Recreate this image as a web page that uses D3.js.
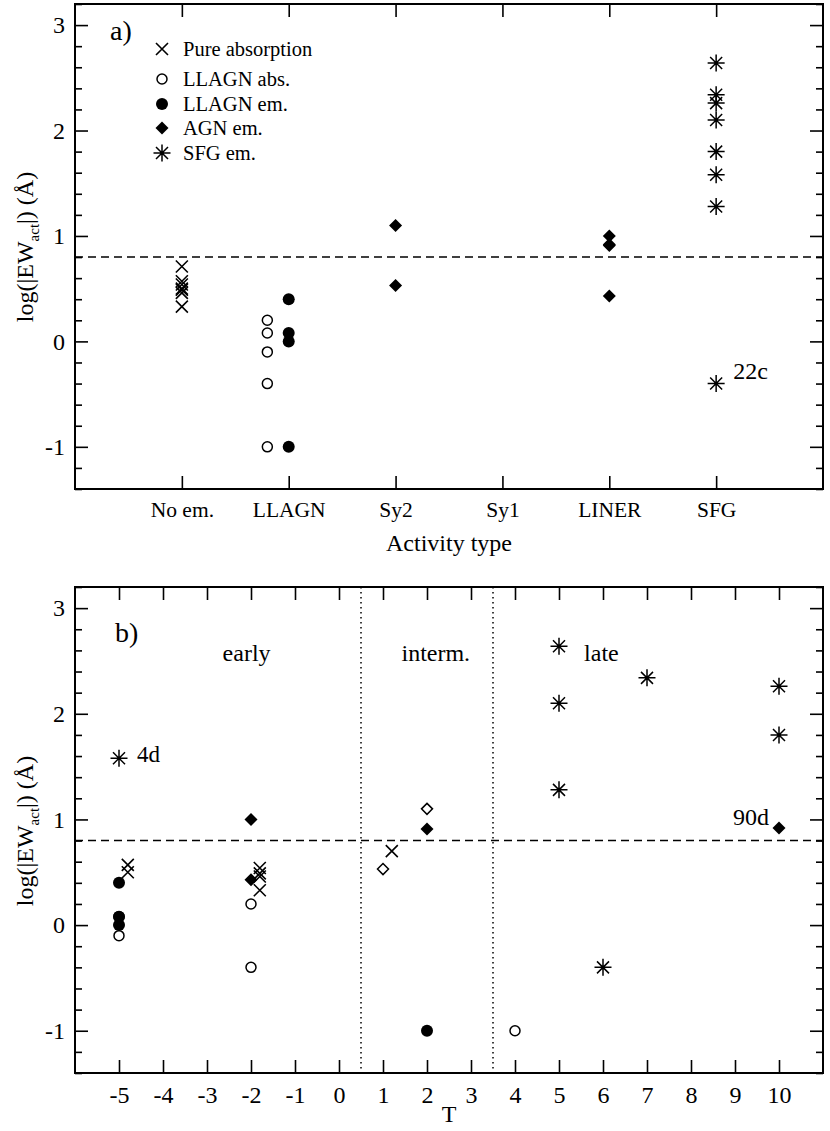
<!DOCTYPE html>
<html>
<head>
<meta charset="utf-8">
<script src="https://cdn.jsdelivr.net/npm/d3@7"></script>
<style>
  body { margin: 0; background: #fff; }
  text { font-family: "Liberation Serif", "Times New Roman", serif; fill: #000; }
</style>
</head>
<body>
<div id="chart"></div>
<script>
// categories / tick labels
const activityTypes = ["No em.", "LLAGN", "Sy2", "Sy1", "LINER", "SFG"];
const hubbleTypes = [-5, -4, -3, -2, -1, 0, 1, 2, 3, 4, 5, 6, 7, 8, 9, 10];
const yMajor = [-1, 0, 1, 2, 3];
const threshold = 0.8;
const morphBounds = [0.5, 3.5];

// panel a: [activity position, log|EW|]
const aPureAbs = [[1, 0.71], [1, 0.57], [1, 0.54], [1, 0.50], [1, 0.49], [1, 0.46], [1, 0.33]];
const aLlagnAbs = [[1.8, 0.20], [1.8, 0.08], [1.8, -0.10], [1.8, -0.40], [1.8, -1.00]];
const aLlagnEm = [[2, 0.40], [2, 0.08], [2, 0.00], [2, -1.00]];
const aAgnEm = [[3, 1.10], [3, 0.53], [5, 1.00], [5, 0.92], [5, 0.91], [5, 0.43]];
const aSfgEm = [[6, 2.64], [6, 2.34], [6, 2.26], [6, 2.10], [6, 1.80], [6, 1.58], [6, 1.28], [6, -0.40]];

// panel b: [T, log|EW|]
const bPureAbs = [[-4.8, 0.57], [-4.8, 0.50], [-1.8, 0.54], [-1.8, 0.49], [-1.8, 0.46], [-1.8, 0.33], [1.2, 0.70]];
const bLlagnAbs = [[-5, 0.08], [-5, -0.10], [-2, 0.20], [-2, -0.40], [4, -1.00]];
const bLlagnEm = [[-5, 0.40], [-5, 0.08], [-5, 0.00], [2, -1.00]];
const bSy2Em = [[1, 0.53], [2, 1.10]];
const bAgnEm = [[-2, 1.00], [-2, 0.43], [2, 0.91], [10, 0.92]];
const bSfgEm = [[-5, 1.58], [5, 2.64], [5, 2.10], [5, 1.28], [7, 2.34], [10, 2.26], [10, 1.80], [6, -0.40]];

const legendItems = [
  { label: "Pure absorption", type: "cross" },
  { label: "LLAGN abs.", type: "openCircle" },
  { label: "LLAGN em.", type: "filledCircle" },
  { label: "AGN em.", type: "diamond" },
  { label: "SFG em.", type: "star" }
];

const W = 830, H = 1131;
const left = 75, right = 823;

const svg = d3.select("#chart").append("svg")
  .attr("width", W)
  .attr("height", H);

// marker shapes
const markers = {
  cross: { d: "M-6,-6L6,6M-6,6L6,-6", fill: "none", stroke: 1.6 },
  openCircle: { d: d3.symbol(d3.symbolCircle, Math.PI * 5 * 5)(), fill: "#fff", stroke: 1.5 },
  filledCircle: { d: d3.symbol(d3.symbolCircle, Math.PI * 6 * 6)(), fill: "#000", stroke: 0 },
  diamond: { d: "M0,-6.5L6.5,0L0,6.5L-6.5,0Z", fill: "#000", stroke: 0 },
  openDiamond: { d: "M0,-5.5L5.5,0L0,5.5L-5.5,0Z", fill: "#fff", stroke: 1.5 },
  star: { d: "M0,-8.5V8.5M-8.5,0H8.5M-6,-6L6,6M-6,6L6,-6", fill: "none", stroke: 1.5 }
};

function drawMarks(g, pts, type, x, y) {
  const m = markers[type];
  g.selectAll(null).data(pts).enter().append("path")
    .attr("transform", d => `translate(${x(d[0])},${y(d[1])})`)
    .attr("d", m.d)
    .attr("fill", m.fill)
    .attr("stroke", "#000")
    .attr("stroke-width", m.stroke);
}

function yLabel(g, cy) {
  const t = g.append("text")
    .attr("transform", `translate(33,${cy}) rotate(-90)`)
    .attr("text-anchor", "middle")
    .attr("font-size", 24);
  t.append("tspan").text("log(|EW");
  t.append("tspan").attr("font-size", 15).attr("dy", 6).text("act");
  t.append("tspan").attr("dy", -6).text("|) (Å)");
}

function drawPanel(top, bottom, xDomain, xTicks, xFormat) {
  const g = svg.append("g");
  const x = d3.scaleLinear().domain(xDomain).range([left, right]);
  const y = d3.scaleLinear().domain([-1.4, 3.2]).range([bottom, top]);
  const yMinor = d3.range(-1.4, 3.21, 0.2).map(v => +v.toFixed(1)).filter(v => !yMajor.includes(v));

  // y axes (ticks point inward)
  g.append("g").attr("transform", `translate(${left},0)`)
    .call(d3.axisLeft(y).tickValues(yMajor).tickSize(-13).tickPadding(10).tickFormat(d => String(d)));
  g.append("g").attr("transform", `translate(${left},0)`)
    .call(d3.axisLeft(y).tickValues(yMinor).tickSize(-7).tickFormat(""));
  g.append("g").attr("transform", `translate(${right},0)`)
    .call(d3.axisRight(y).tickValues(yMajor).tickSize(-13).tickFormat(""));
  g.append("g").attr("transform", `translate(${right},0)`)
    .call(d3.axisRight(y).tickValues(yMinor).tickSize(-7).tickFormat(""));

  // x axes
  g.append("g").attr("class", "xb").attr("transform", `translate(0,${bottom})`)
    .call(d3.axisBottom(x).tickValues(xTicks).tickSize(-13).tickPadding(13).tickFormat(xFormat));
  g.append("g").attr("transform", `translate(0,${top})`)
    .call(d3.axisTop(x).tickValues(xTicks).tickSize(-13).tickFormat(""));

  g.selectAll(".domain").remove();
  g.selectAll(".tick line").attr("stroke", "#000").attr("stroke-width", 1.6);
  g.selectAll(".tick text").attr("font-size", 24).attr("fill", "#000");

  // frame
  g.append("rect")
    .attr("x", left).attr("y", top)
    .attr("width", right - left).attr("height", bottom - top)
    .attr("fill", "none").attr("stroke", "#000").attr("stroke-width", 2);

  // threshold line
  g.append("line")
    .attr("x1", left).attr("x2", right)
    .attr("y1", y(threshold)).attr("y2", y(threshold))
    .attr("stroke", "#000").attr("stroke-width", 1.6)
    .attr("stroke-dasharray", "8,5");

  return { g, x, y };
}

// ---- panel a ----
const pa = drawPanel(4, 489, [0, 7], [1, 2, 3, 4, 5, 6], (d) => activityTypes[d - 1]);
pa.g.selectAll(".xb .tick text").attr("font-size", 21.5);

drawMarks(pa.g, aPureAbs, "cross", pa.x, pa.y);
drawMarks(pa.g, aLlagnAbs, "openCircle", pa.x, pa.y);
drawMarks(pa.g, aLlagnEm, "filledCircle", pa.x, pa.y);
drawMarks(pa.g, aAgnEm, "diamond", pa.x, pa.y);
drawMarks(pa.g, aSfgEm, "star", pa.x, pa.y);

pa.g.append("text").attr("x", 110).attr("y", 40).attr("font-size", 28).text("a)");
pa.g.append("text")
  .attr("x", pa.x(6) + 17).attr("y", pa.y(-0.4) - 5)
  .attr("font-size", 24).text("22c");

const legend = pa.g.append("g");
const legendY = [49, 79, 104, 128, 153];
legendItems.forEach((item, i) => {
  const m = markers[item.type];
  legend.append("path")
    .attr("transform", `translate(162,${legendY[i]})`)
    .attr("d", m.d)
    .attr("fill", m.fill)
    .attr("stroke", "#000")
    .attr("stroke-width", m.stroke);
  legend.append("text")
    .attr("x", 183).attr("y", legendY[i] + 7)
    .attr("font-size", 20.5).text(item.label);
});

pa.g.append("text")
  .attr("x", (left + right) / 2).attr("y", 551)
  .attr("text-anchor", "middle").attr("font-size", 24)
  .text("Activity type");
yLabel(pa.g, 247);

// ---- panel b ----
const pb = drawPanel(587, 1073, [-6, 11], hubbleTypes, d => String(d));

morphBounds.forEach(t => {
  pb.g.append("line")
    .attr("x1", pb.x(t)).attr("x2", pb.x(t))
    .attr("y1", 587).attr("y2", 1073)
    .attr("stroke", "#000").attr("stroke-width", 1.5)
    .attr("stroke-dasharray", "1.5,3.5");
});

drawMarks(pb.g, bPureAbs, "cross", pb.x, pb.y);
drawMarks(pb.g, bLlagnAbs, "openCircle", pb.x, pb.y);
drawMarks(pb.g, bLlagnEm, "filledCircle", pb.x, pb.y);
drawMarks(pb.g, bSy2Em, "openDiamond", pb.x, pb.y);
drawMarks(pb.g, bAgnEm, "diamond", pb.x, pb.y);
drawMarks(pb.g, bSfgEm, "star", pb.x, pb.y);

pb.g.append("text").attr("x", 115).attr("y", 642).attr("font-size", 28).text("b)");
pb.g.append("text").attr("x", pb.x(-2.1)).attr("y", pb.y(2.5)).attr("text-anchor", "middle").attr("font-size", 24).text("early");
pb.g.append("text").attr("x", pb.x(2.2)).attr("y", pb.y(2.5)).attr("text-anchor", "middle").attr("font-size", 24).text("interm.");
pb.g.append("text").attr("x", pb.x(5.57)).attr("y", pb.y(2.5)).attr("font-size", 24).text("late");
pb.g.append("text").attr("x", pb.x(-5) + 18).attr("y", pb.y(1.58) + 4).attr("font-size", 23).text("4d");
pb.g.append("text").attr("x", pb.x(10) - 10).attr("y", pb.y(0.92) - 3).attr("text-anchor", "end").attr("font-size", 24).text("90d");

pb.g.append("text")
  .attr("x", (left + right) / 2).attr("y", 1122)
  .attr("text-anchor", "middle").attr("font-size", 24)
  .text("T");
yLabel(pb.g, 831);
</script>
</body>
</html>
